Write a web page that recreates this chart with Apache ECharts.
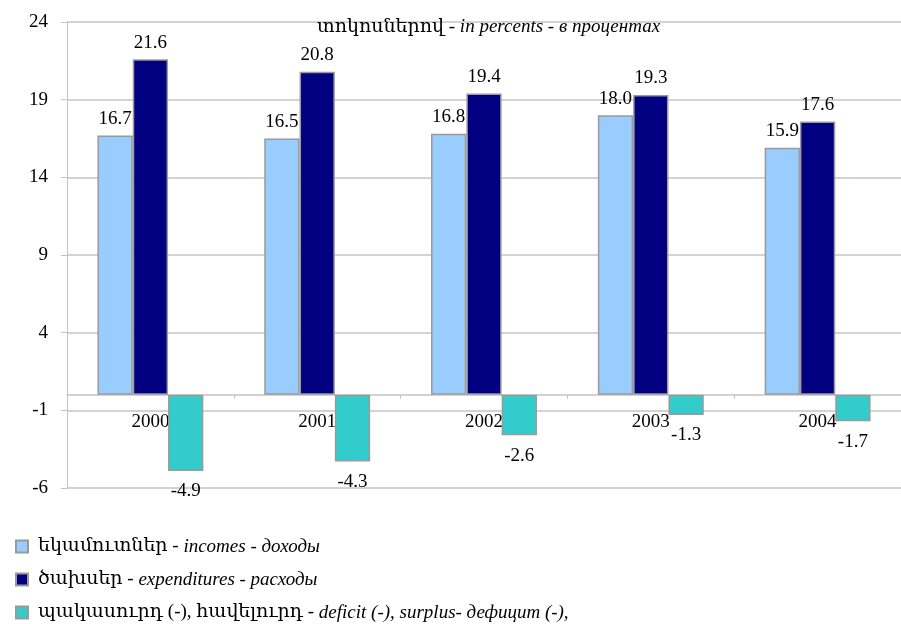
<!DOCTYPE html>
<html>
<head>
<meta charset="utf-8">
<script src="https://cdn.jsdelivr.net/npm/echarts@6/dist/echarts.min.js"></script>
<style>
  html, body { margin: 0; padding: 0; background: #fff; }
  #chart { width: 901px; height: 624px; }
</style>
</head>
<body>
<div id="chart"></div>
<script>
// data
var years = ['2000', '2001', '2002', '2003', '2004'];
var incomes = [16.7, 16.5, 16.8, 18.0, 15.9];
var expenditures = [21.6, 20.8, 19.4, 19.3, 17.6];
var deficit = [-4.9, -4.3, -2.6, -1.3, -1.7];
var yTicks = [-6, -1, 4, 9, 14, 19, 24];

// legend texts: armenian part / italic part
var namesArm = ['եկամուտներ - ', 'ծախսեր - ', 'պակասուրդ (-), հավելուրդ - '];
var namesItal = ['incomes - доходы', 'expenditures - расходы', 'deficit (-), surplus- дефицит (-),'];
var seriesNames = namesArm.map(function (a, i) { return a + namesItal[i]; });

var serif = "'Liberation Serif', 'DejaVu Serif', serif";
var gridColor = '#c4c4c4';
var borderColor = '#9a9a9a';

var chart = echarts.init(document.getElementById('chart'));

function barLabel(dist) {
  return {
    show: true,
    position: 'outside',
    distance: dist,
    color: '#000',
    fontFamily: serif,
    fontSize: 19,
    formatter: function (p) { return p.value.toFixed(1); }
  };
}

var txtA = { fontFamily: serif, fontSize: 19, fontWeight: 'normal', color: '#000', lineHeight: 20 };
var txtB = { fontFamily: serif, fontSize: 19, fontWeight: 'normal', fontStyle: 'italic', color: '#000', lineHeight: 20 };

var option = {
  animation: false,
  backgroundColor: '#fff',
  title: {
    text: '{a|տոկոսներով - }{b|in percents - в процентах}',
    left: 312,
    top: 12,
    textStyle: { fontWeight: 'normal', rich: { a: txtA, b: txtB } }
  },
  legend: {
    orient: 'vertical',
    left: 10,
    top: 532,
    height: 92,
    itemWidth: 12,
    itemHeight: 12,
    itemGap: 14,
    icon: 'rect',
    data: seriesNames,
    formatter: function (name) {
      var i = seriesNames.indexOf(name);
      return '{a|' + namesArm[i] + '}{b|' + namesItal[i] + '}';
    },
    textStyle: {
      padding: [0, 0, 0, 5],
      rich: { a: txtA, b: txtB }
    }
  },
  grid: {
    left: 67,
    right: -10,
    top: 22,
    bottom: 136,
    containLabel: false
  },
  xAxis: {
    type: 'category',
    data: years,
    // keep the category axis on the zero line
    offset: -93.2,
    axisLine: { onZero: false, lineStyle: { color: gridColor, width: 1.5 } },
    axisTick: { show: true, length: 4, lineStyle: { color: gridColor } },
    axisLabel: {
      color: '#000',
      fontFamily: serif,
      fontSize: 19,
      margin: 18
    },
    splitLine: { show: false }
  },
  yAxis: {
    type: 'value',
    min: -6,
    max: 24,
    axisLine: { show: true, lineStyle: { color: gridColor } },
    axisTick: { show: true, length: 6, customValues: yTicks, lineStyle: { color: gridColor } },
    axisLabel: {
      customValues: yTicks,
      color: '#000',
      fontFamily: serif,
      fontSize: 19,
      margin: 19
    },
    splitLine: { show: true, lineStyle: { color: gridColor, width: 1.5 } }
  },
  series: [
    {
      name: seriesNames[0],
      type: 'bar',
      data: incomes,
      barGap: '0%',
      barCategoryGap: '36.5%',
      itemStyle: { color: '#99ccff', borderColor: borderColor, borderWidth: 1.5 },
      label: barLabel(7)
    },
    {
      name: seriesNames[1],
      type: 'bar',
      data: expenditures,
      barGap: '0%',
      barCategoryGap: '36.5%',
      itemStyle: { color: '#000080', borderColor: borderColor, borderWidth: 1.5 },
      label: barLabel(7)
    },
    {
      name: seriesNames[2],
      type: 'bar',
      data: deficit,
      barGap: '0%',
      barCategoryGap: '36.5%',
      itemStyle: { color: '#33cccc', borderColor: borderColor, borderWidth: 1.5 },
      label: barLabel(11)
    }
  ]
};

chart.setOption(option);
</script>
</body>
</html>
